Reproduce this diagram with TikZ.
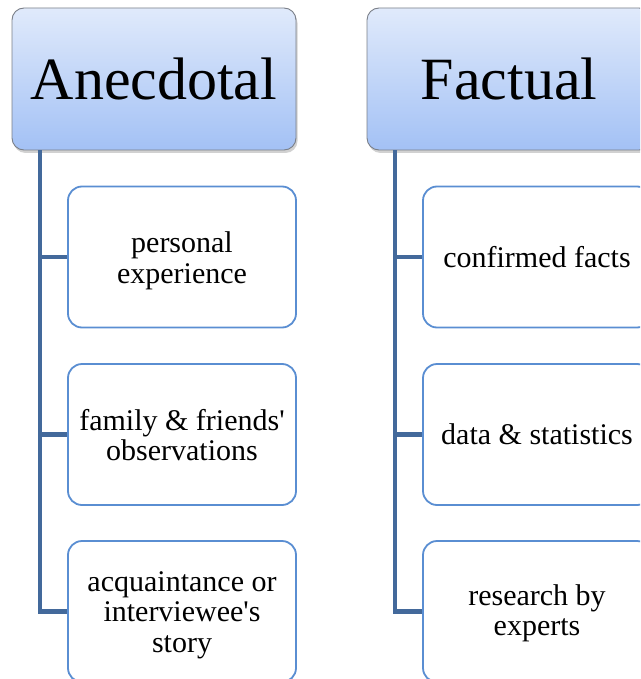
\documentclass[tikz,border=0pt]{standalone}
\usepackage{fontspec}
\setmainfont{Liberation Serif}[Ligatures=TeXOff]
\usetikzlibrary{shadows}
\definecolor{hdrtop}{HTML}{E0EAFB}
\definecolor{hdrbot}{HTML}{A3C1F5}
\definecolor{hdrline}{HTML}{7A7F88}
\definecolor{boxline}{HTML}{5A8ED2}
\definecolor{connline}{HTML}{43699B}
\newcommand\lowertext[2]{\raisebox{-#1}[\height][\depth]{\begin{tabular}{@{}c@{}}#2\end{tabular}}}
\tikzset{
  header/.style={draw=hdrline, line width=0.9pt, rounded corners=12pt,
    top color=hdrtop, bottom color=hdrbot,
    minimum width=284pt, minimum height=142pt, inner sep=0pt,
    font=\fontsize{60}{60}\selectfont,
    drop shadow={shadow xshift=1.5pt, shadow yshift=-3pt, opacity=0.3, fill=black!60}},
  child/.style={draw=boxline, line width=1.8pt, rounded corners=14pt, fill=white,
    minimum width=228pt, minimum height=141pt, inner sep=2pt, align=center,
    font=\fontsize{30}{30.5}\selectfont},
  conn/.style={draw=connline, line width=4.5pt}
}
\begin{document}
\begin{tikzpicture}[x=1pt, y=-1pt]
\useasboundingbox (0,0) rectangle (640,679);
\clip (0,0) rectangle (640,679);
\coordinate (vL) at (40,150);
\coordinate (vR) at (395,150);
% headers
\node[header] (hL) at (154,79) {Anecdotal};
\node[header] (hR) at (509,79) {Factual};
% children
\node[child] (l1) at (182,257) {\lowertext{5pt}{personal\\experience}};
\node[child] (l2) at (182,434.5) {\lowertext{5pt}{family \& friends'\\observations}};
\node[child] (l3) at (182,611.5) {\lowertext{4pt}{acquaintance or\\interviewee's\\story}};
\node[child] (r1) at (537,257) {confirmed facts};
\node[child] (r2) at (537,434.5) {data \& statistics};
\node[child] (r3) at (537,611.5) {\lowertext{3pt}{research by\\experts}};
% connectors
\draw[conn] (vL |- hL.south) |- (l1.west);
\draw[conn] (vL |- hL.south) |- (l2.west);
\draw[conn] (vL |- hL.south) |- (l3.west);
\draw[conn] (vR |- hR.south) |- (r1.west);
\draw[conn] (vR |- hR.south) |- (r2.west);
\draw[conn] (vR |- hR.south) |- (r3.west);
\end{tikzpicture}
\end{document}
